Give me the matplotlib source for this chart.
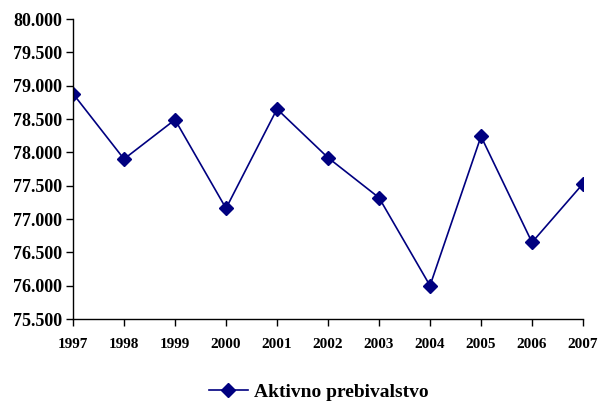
import matplotlib
matplotlib.use("Agg")
import matplotlib.pyplot as plt
from matplotlib.ticker import FuncFormatter, MultipleLocator

years = ["1997", "1998", "1999", "2000", "2001", "2002",
         "2003", "2004", "2005", "2006", "2007"]
active = [78880, 77900, 78490, 77160, 78650, 77920,
          77320, 76000, 78240, 76650, 77530]
series_name = "Aktivno prebivalstvo"

NAVY = "#000080"

plt.rcParams["font.family"] = ["Liberation Serif", "DejaVu Serif"]
plt.rcParams["font.weight"] = "bold"

fig = plt.figure(figsize=(5.99, 4.05), dpi=100)
ax = fig.add_axes([0.1219, 0.2123, 0.8514, 0.7407])

x = list(range(len(years)))
ax.plot(x, active, color=NAVY, linewidth=1.2, marker="D", markersize=7,
        markerfacecolor=NAVY, markeredgecolor=NAVY, label=series_name)

ax.set_xlim(0, len(years) - 1)
ax.set_ylim(75500, 80000)
ax.set_xticks(x)
ax.set_xticklabels(years, fontsize=11, fontweight="bold")
ax.yaxis.set_major_locator(MultipleLocator(500))
# thousands separator as a dot, e.g. 78.500
ax.yaxis.set_major_formatter(FuncFormatter(lambda v, p: f"{v/1000:.3f}"))
for lab in ax.get_yticklabels():
    lab.set_fontsize(13)
    lab.set_fontweight("bold")

for s in ["top", "right"]:
    ax.spines[s].set_visible(False)
for s in ["left", "bottom"]:
    ax.spines[s].set_linewidth(1.0)
ax.tick_params(axis="both", direction="out", length=5, width=1.0, colors="black")
ax.tick_params(axis="x", pad=9)
ax.tick_params(axis="y", pad=3)

fig.legend(loc="center", bbox_to_anchor=(0.532, 0.032), frameon=False,
           prop={"size": 14, "weight": "bold"}, handlelength=2.0,
           handletextpad=0.3, borderpad=0.2)

fig.savefig("out.png", dpi=100)
